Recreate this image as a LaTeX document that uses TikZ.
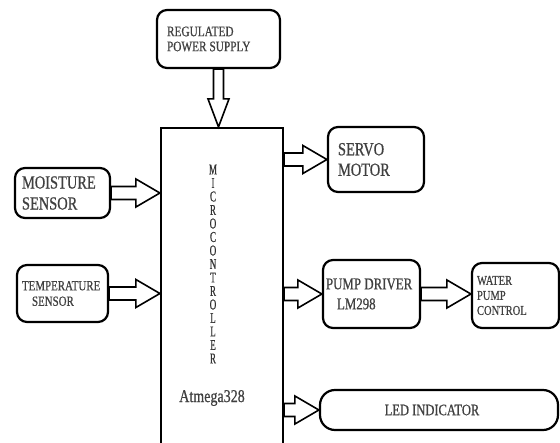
\documentclass[tikz,border=0pt]{standalone}
\usepackage{fontspec}
\setmainfont{Liberation Serif}[FakeStretch=0.78, FakeBold=0.7]
\newfontfamily\narrowserif{Liberation Serif}[FakeStretch=0.6, FakeBold=0.7]
\usetikzlibrary{calc}
\newcommand{\wsp}{\hspace{0.2em}}

\begin{document}
\begin{tikzpicture}[
    x=1pt, y=-1pt,
    blk/.style={draw, rounded corners=10pt, line width=2.2pt, text=black!75,
                align=left, inner ysep=0pt},
    harrow/.style={draw, line width=1.6pt, line join=miter,
        to path={let \p1=(\tikztostart), \p2=(\tikztotarget) in
            (\x1,\y1+6.5pt) -- (\x2-24pt,\y1+6.5pt) -- (\x2-24pt,\y1+14pt) -- (\x2,\y1)
            -- (\x2-24pt,\y1-14pt) -- (\x2-24pt,\y1-6.5pt) -- (\x1,\y1-6.5pt) -- cycle}},
    varrow/.style={draw, line width=1.6pt, line join=miter,
        to path={let \p1=(\tikztostart), \p2=(\tikztotarget) in
            (\x1-5pt,\y1) -- (\x1-5pt,\y2+28pt) -- (\x1-10.5pt,\y2+28pt) -- (\x1,\y2)
            -- (\x1+10.5pt,\y2+28pt) -- (\x1+5pt,\y2+28pt) -- (\x1+5pt,\y1) -- cycle}}
]
    \useasboundingbox (0,0) rectangle (560,443);

    % Blocks
    \node[blk, text width=103pt, inner xsep=10pt, minimum height=58pt,
          font=\fontsize{14.5}{15}\selectfont] (power) at (218.5,39)
          {REGULATED\\POWER\wsp SUPPLY};
    \node[draw, line width=2.2pt, minimum width=122pt, minimum height=340pt] (mcu) at (222,298) {};
    \node[text=black!80, align=center, font=\narrowserif\fontsize{15}{13.5}\selectfont] (mcutxt) at (213,264)
          {M\\I\\C\\R\\O\\C\\O\\N\\T\\R\\O\\L\\L\\E\\R};
    \node[text=black!75, font=\fontsize{18}{20}\selectfont] (atmega) at (212,398) {Atmega328};
    \node[blk, text width=81pt, inner xsep=7pt, minimum height=50pt,
          font=\fontsize{18.5}{21}\selectfont] (moist) at (62.5,193) {MOISTURE\\SENSOR};
    \node[blk, text width=81pt, inner xsep=5pt, minimum height=57pt,
          font=\fontsize{14}{15.5}\selectfont] (temp) at (62.5,293.5) {TEMPERATURE\\\hspace*{10pt}SENSOR};
    \node[blk, text width=76pt, inner xsep=10pt, minimum height=65pt,
          font=\fontsize{18.5}{20.5}\selectfont] (servo) at (376,159.5) {SERVO\\MOTOR};
    \node[blk, text width=91pt, inner xsep=3pt, minimum height=68pt,
          font=\fontsize{16.5}{20}\selectfont] (driver) at (371.5,294) {PUMP\wsp DRIVER\\\hspace*{11pt}LM298};
    \node[blk, text width=77pt, inner xsep=5pt, minimum height=65pt,
          font=\fontsize{13.5}{15}\selectfont] (water) at (515.5,295.5) {WATER\\PUMP\\CONTROL};
    \node[blk, rounded corners=15pt, align=center, minimum width=238pt, minimum height=40pt,
          font=\fontsize{16}{18}\selectfont] (led) at (439,410) {LED\wsp INDICATOR\hspace*{14pt}};

    % Block arrows
    \draw[varrow] (power.south) to (power.south |- mcu.north);
    \draw[harrow] (moist.east) to (moist.east -| mcu.west);
    \draw[harrow] (temp.east) to (temp.east -| mcu.west);
    \draw[harrow] (servo.west -| mcu.east) to (servo.west);
    \draw[harrow] (driver.west -| mcu.east) to (driver.west);
    \draw[harrow] (driver.east) to (driver.east -| water.west);
    \draw[harrow] (led.west -| mcu.east) to (led.west);
\end{tikzpicture}
\end{document}
